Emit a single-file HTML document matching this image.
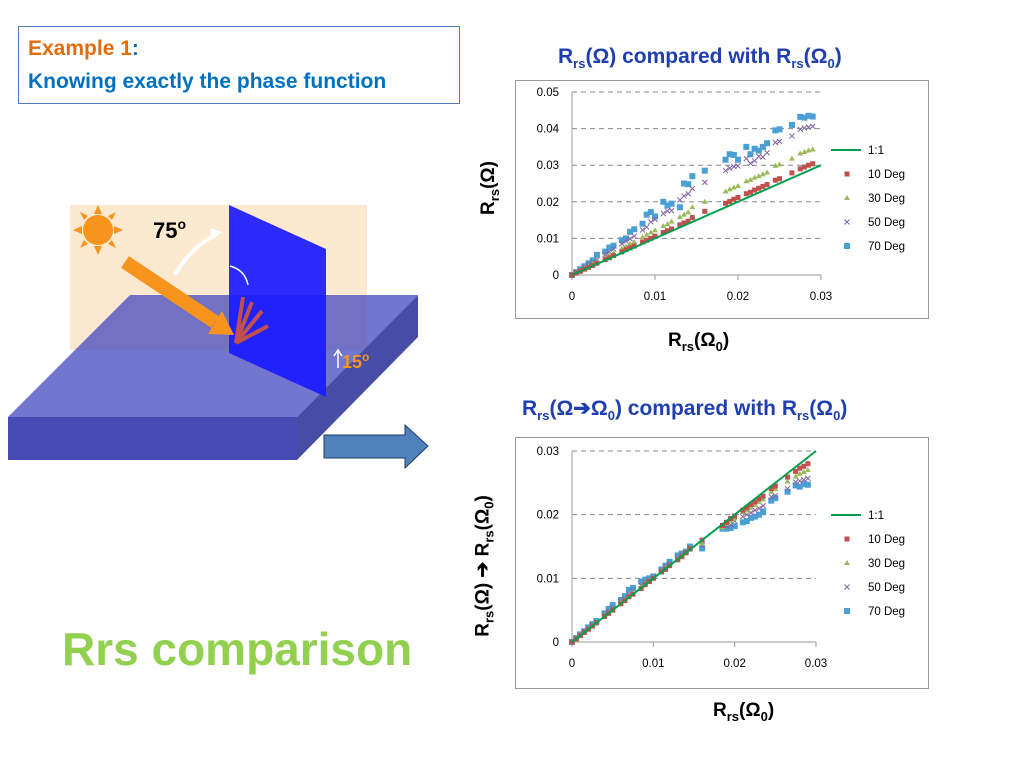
<!DOCTYPE html>
<html><head><meta charset="utf-8"><style>
body{margin:0;width:1024px;height:768px;background:#fff;position:relative;overflow:hidden;font-family:"Liberation Sans",Arial,sans-serif}
.ab{position:absolute}
.title{position:absolute;color:#1f3fb0;font-weight:bold;font-size:21px;font-family:"Liberation Sans",sans-serif;white-space:nowrap}
sub{font-size:13px}
.axl{position:absolute;font-weight:bold;font-size:19px;color:#000;white-space:nowrap}
</style></head><body>
<div class="ab" style="left:18px;top:26px;width:442px;height:78px;border:1px solid #4a7ebb;box-sizing:border-box;"></div>
<div class="ab" style="left:28px;top:37px;font-size:21px;font-weight:bold;color:#e46c0a">Example 1<span style="color:#0070c0">:</span></div>
<div class="ab" style="left:28px;top:70px;font-size:21px;font-weight:bold;color:#0070c0">Knowing exactly the phase function</div>
<div class="ab" style="left:62px;top:622px;font-size:46px;font-weight:bold;color:#92d050">Rrs comparison</div>

<svg class="ab" style="left:0;top:0" width="440" height="480">
<rect x="70" y="205" width="297" height="145" fill="#fde9d0"/>
<polygon points="8,417 130,295 418,295 297,417" fill="#4a4fc0" fill-opacity="0.78"/>
<polygon points="8,417 297,417 297,460 8,460" fill="#474cb5"/>
<polygon points="297,417 418,295 418,337 297,460" fill="#474ca5"/>
<polygon points="229,205 326,249 326,397 229,353" fill="#1a1aff" fill-opacity="0.92"/>
<g fill="#f7941d">
<circle cx="98" cy="230" r="15"/>
<polygon points="98,205 94,214 102,214"/><polygon points="98,255 94,246 102,246"/>
<polygon points="73,230 82,226 82,234"/><polygon points="123,230 114,226 114,234"/>
<polygon points="80,212 88,216 84,220"/><polygon points="116,212 108,216 112,220"/>
<polygon points="80,248 88,244 84,240"/><polygon points="116,248 108,244 112,240"/>
</g>
<line x1="125" y1="262" x2="215" y2="322" stroke="#f7941d" stroke-width="14"/>
<polygon points="208,334 234,335 222,311" fill="#f7941d"/>
<g stroke="#c0504d" stroke-width="4" fill="none">
<line x1="236" y1="343" x2="243" y2="297"/><line x1="236" y1="343" x2="252" y2="302"/><line x1="236" y1="343" x2="262" y2="311"/><line x1="236" y1="343" x2="268" y2="326"/>
</g>
<path d="M175 275 Q190 248 215 235" stroke="#fff" stroke-width="4" fill="none"/>
<polygon points="222,232 210,228 212,240" fill="#fff"/>
<path d="M230 266 Q245 270 248 285" stroke="#fff" stroke-width="1.5" fill="none"/>
<path d="M338 368 L338 352 M334 356 L338 350 L342 356" stroke="#fff" stroke-width="1.5" fill="none"/>
<text x="153" y="238" font-size="22" font-weight="bold" font-family="Liberation Sans">75<tspan font-size="14" dy="-9">o</tspan></text>
<text x="342" y="368" font-size="18" font-weight="bold" fill="#f7941d" font-family="Liberation Sans">15<tspan font-size="12" dy="-7">o</tspan></text>
<polygon points="324,435 405,435 405,425 428,446 405,468 405,458 324,458" fill="#4f81bd" stroke="#1f3b5e"/>
</svg>

<div class="title" style="left:558px;top:45px">R<sub>rs</sub>(Ω) compared with R<sub>rs</sub>(Ω<sub>0</sub>)</div>
<div class="title" style="left:522px;top:396px">R<sub>rs</sub>(Ω➔Ω<sub>0</sub>) compared with R<sub>rs</sub>(Ω<sub>0</sub>)</div>
<div class="axl" style="left:668px;top:330px">R<sub>rs</sub>(Ω<sub>0</sub>)</div>
<div class="axl" style="left:713px;top:700px">R<sub>rs</sub>(Ω<sub>0</sub>)</div>
<div class="axl" style="left:490px;top:188px;transform:translate(-50%,-50%) rotate(-90deg)">R<sub>rs</sub>(Ω)</div>
<div class="axl" style="left:484px;top:566px;transform:translate(-50%,-50%) rotate(-90deg)">R<sub>rs</sub>(Ω) ➔ R<sub>rs</sub>(Ω<sub>0</sub>)</div>

<svg id="c1" class="ab" style="left:515px;top:80px" width="414" height="239"></svg>
<svg id="c2" class="ab" style="left:515px;top:437px" width="414" height="252"></svg>

<script>
const xs=[0,0.0005,0.001,0.0015,0.002,0.0025,0.003,0.004,0.0045,0.005,0.006,0.0065,0.007,0.0075,0.0085,0.009,0.0095,0.01,0.011,0.0115,0.012,0.013,0.0135,0.014,0.0145,0.016,0.0185,0.019,0.0195,0.02,0.021,0.0215,0.022,0.0225,0.023,0.0235,0.0245,0.025,0.0265,0.0275,0.028,0.0285,0.029];
const top10=[0,0.0005,0.001,0.0016,0.0021,0.0026,0.0032,0.0042,0.0047,0.0053,0.0063,0.0069,0.0074,0.0079,0.009,0.0095,0.0100,0.0106,0.0116,0.0121,0.0126,0.0137,0.0142,0.0147,0.0157,0.0174,0.0196,0.0201,0.0207,0.0212,0.0222,0.0226,0.0232,0.0237,0.0242,0.0247,0.0259,0.0263,0.0279,0.029,0.0295,0.030,0.0304];
const top30=[0,0.0006,0.0012,0.0018,0.0024,0.003,0.0036,0.0047,0.0053,0.006,0.0072,0.0078,0.0085,0.009,0.0103,0.011,0.0116,0.0122,0.0134,0.0139,0.0146,0.0158,0.0165,0.0171,0.0185,0.0200,0.0228,0.0234,0.0239,0.0243,0.0256,0.026,0.0266,0.027,0.0275,0.0280,0.0298,0.0302,0.0318,0.0332,0.0336,0.034,0.0343];
const top50=[0,0.0007,0.0014,0.0021,0.0028,0.0035,0.0042,0.0056,0.0063,0.0071,0.0085,0.0092,0.0099,0.0106,0.0123,0.0131,0.0145,0.0152,0.0168,0.0175,0.0176,0.0205,0.0216,0.0222,0.0236,0.0253,0.0285,0.0292,0.0296,0.0298,0.0318,0.0305,0.0312,0.0324,0.0322,0.0334,0.0362,0.0365,0.0380,0.0398,0.0402,0.0404,0.0406];
const top70=[0,0.0008,0.0016,0.0024,0.0032,0.004,0.0055,0.0064,0.0075,0.0080,0.0095,0.0100,0.0118,0.0125,0.0140,0.0165,0.0172,0.0160,0.0200,0.0190,0.0195,0.0185,0.0250,0.0248,0.0270,0.0285,0.0315,0.0330,0.0328,0.0315,0.0350,0.0330,0.0345,0.0340,0.0350,0.0360,0.0395,0.0398,0.0410,0.0432,0.0430,0.0435,0.0433];
const bot10=[0,0.0005,0.001,0.0015,0.002,0.0025,0.003,0.004,0.0045,0.005,0.006,0.0065,0.0071,0.0075,0.0084,0.009,0.0095,0.01,0.011,0.0114,0.012,0.0129,0.0134,0.014,0.0146,0.016,0.0183,0.0188,0.0194,0.0198,0.0207,0.0211,0.0216,0.022,0.0225,0.0229,0.0241,0.0245,0.0259,0.0268,0.0273,0.0276,0.0280];
const bot30=[0,0.0005,0.001,0.0015,0.002,0.0025,0.003,0.0041,0.0046,0.0051,0.0062,0.0066,0.0072,0.0077,0.0086,0.0092,0.0096,0.0101,0.0111,0.0116,0.0121,0.0131,0.0135,0.014,0.0147,0.0155,0.0180,0.0186,0.0190,0.0194,0.0204,0.0207,0.0211,0.0215,0.022,0.0224,0.0236,0.024,0.0252,0.026,0.0264,0.0267,0.0270];
const bot50=[0,0.0005,0.0011,0.0016,0.0021,0.0026,0.0031,0.0042,0.0048,0.0053,0.0064,0.0068,0.0075,0.008,0.0089,0.0095,0.0098,0.0102,0.0113,0.0118,0.0123,0.0133,0.0137,0.0141,0.0148,0.0152,0.018,0.0182,0.0184,0.019,0.0197,0.0200,0.0203,0.0207,0.0210,0.0214,0.0228,0.0230,0.0241,0.0251,0.0253,0.0255,0.0257];
const bot70=[0,0.0006,0.0012,0.0017,0.0023,0.0028,0.0033,0.0045,0.0052,0.0058,0.0066,0.0072,0.0082,0.0085,0.0095,0.0098,0.0100,0.0103,0.0114,0.0120,0.0126,0.0136,0.0139,0.0142,0.015,0.0147,0.0178,0.0178,0.0179,0.0182,0.0188,0.019,0.0195,0.0197,0.020,0.0205,0.0222,0.0226,0.0236,0.0246,0.0244,0.0248,0.0247];
const xTicks=["0","0.01","0.02","0.03"];
const topYTicks=["0","0.01","0.02","0.03","0.04","0.05"];
const botYTicks=["0","0.01","0.02","0.03"];
const legendLabels=["1:1","10 Deg","30 Deg","50 Deg","70 Deg"];
const colors=["#00a050","#c0504d","#9bbb59","#8064a2","#4a9fd4"];
const NS="http://www.w3.org/2000/svg";
function mk(svg,tag,attrs){const e=document.createElementNS(NS,tag);for(const k in attrs)e.setAttribute(k,attrs[k]);svg.appendChild(e);return e;}
function marker(svg,s,x,y){const c=colors[s+1];
  if(s===0)return mk(svg,'rect',{x:x-2.5,y:y-2.5,width:5,height:5,fill:c});
  if(s===1)return mk(svg,'polygon',{points:`${x},${y-3} ${x-3},${y+2} ${x+3},${y+2}`,fill:c});
  if(s===2)return mk(svg,'path',{d:`M${x-2.5} ${y-2.5}L${x+2.5} ${y+2.5}M${x-2.5} ${y+2.5}L${x+2.5} ${y-2.5}`,stroke:c,'stroke-width':1});
  return mk(svg,'rect',{x:x-3,y:y-3,width:6,height:6,fill:c});}
function draw(svg,W,H,px0,px1,py0,py1,ymax,yTicks,series,legY){
  const sx=v=>px0+v/0.03*(px1-px0), sy=v=>py0-v/ymax*(py0-py1);
  let r=mk(svg,'rect',{x:0.5,y:0.5,width:W-1,height:H-1,fill:'#fff',stroke:'#999'});
  
  yTicks.forEach(t=>{const v=+t,y=sy(v);
    if(v>0){const g=mk(svg,'line',{x1:px0,x2:px1,y1:y,y2:y,stroke:'#888','stroke-dasharray':'5,4'});
      }
    const tx=mk(svg,'text',{x:px0-13,y:y+4,'text-anchor':'end','font-size':11.5,'font-family':'Liberation Sans'});tx.textContent=t;
    });
  xTicks.forEach(t=>{const x=sx(+t);
    const tx=mk(svg,'text',{x:x,y:py0+25,'text-anchor':'middle','font-size':11.5,'font-family':'Liberation Sans'});tx.textContent=t;
    
    mk(svg,'line',{x1:x,x2:x,y1:py0,y2:py0+5,stroke:'#999'});});
  let a=mk(svg,'line',{x1:px0,x2:px0,y1:py1,y2:py0,stroke:'#999'});
  a=mk(svg,'line',{x1:px0,x2:px1,y1:py0,y2:py0,stroke:'#999'});
  for(let s=3;s>=0;s--){const ys=series[s];
    xs.forEach((xv,i)=>{const m=marker(svg,s,sx(xv),sy(ys[i]));
      
      });}
  const l=mk(svg,'line',{x1:sx(0),y1:sy(0),x2:sx(0.03),y2:sy(0.03),stroke:colors[0],'stroke-width':2});
  
  legendLabels.forEach((lab,i)=>{const y=legY+i*24;const lx=W-98;let m;
    if(i===0)m=mk(svg,'line',{x1:lx,x2:lx+30,y1:y,y2:y,stroke:colors[0],'stroke-width':2});
    else m=marker(svg,i-1,lx+16,y);
    
    const t=mk(svg,'text',{x:lx+37,y:y+4,'font-size':11.5,'font-family':'Liberation Sans'});t.textContent=lab;
    });
}
draw(document.getElementById('c1'),414,239,57,306,195,12,0.05,topYTicks,[top10,top30,top50,top70],70);
draw(document.getElementById('c2'),414,252,57,301,205,14,0.03,botYTicks,[bot10,bot30,bot50,bot70],78);
</script>
</body></html>
